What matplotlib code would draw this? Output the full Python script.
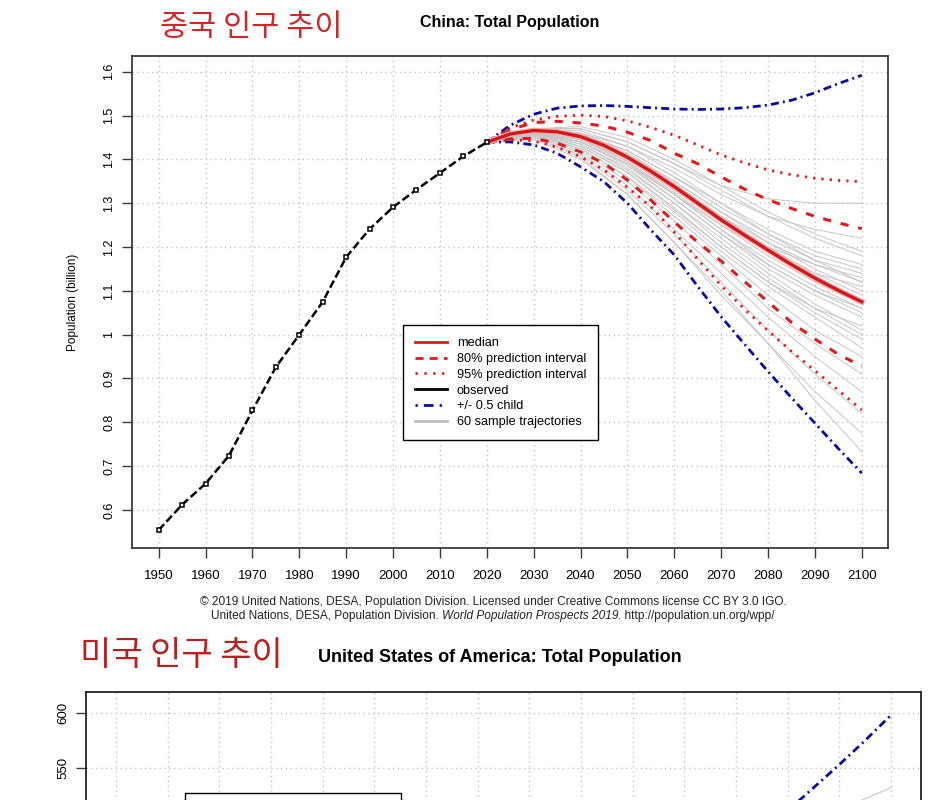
import matplotlib
matplotlib.use("Agg")
import matplotlib.pyplot as plt
from matplotlib.lines import Line2D
from matplotlib.patches import Rectangle
from matplotlib.offsetbox import TextArea, HPacker, AnnotationBbox

plt.rcParams['font.family'] = ['Liberation Sans', 'DejaVu Sans']

# ---- China data (billions) ----
obs_years = [1950, 1955, 1960, 1965, 1970, 1975, 1980, 1985, 1990, 1995,
             2000, 2005, 2010, 2015, 2020]
obs_pop = [0.554, 0.612, 0.660, 0.724, 0.827, 0.926, 1.000, 1.075, 1.177,
           1.241, 1.291, 1.331, 1.369, 1.407, 1.439]

proj_years = [2020, 2025, 2030, 2035, 2040, 2045, 2050, 2055, 2060, 2065,
              2070, 2075, 2080, 2085, 2090, 2095, 2100]
median = [1.439, 1.458, 1.466, 1.463, 1.452, 1.432, 1.405, 1.373, 1.338,
          1.300, 1.262, 1.227, 1.193, 1.160, 1.129, 1.101, 1.075]
pi80_up = [1.439, 1.468, 1.484, 1.487, 1.483, 1.476, 1.462, 1.443, 1.414,
           1.390, 1.360, 1.332, 1.308, 1.288, 1.270, 1.255, 1.242]
pi80_lo = [1.439, 1.447, 1.448, 1.437, 1.417, 1.391, 1.353, 1.307, 1.257,
           1.211, 1.168, 1.121, 1.075, 1.028, 0.990, 0.955, 0.928]
pi95_up = [1.439, 1.472, 1.490, 1.498, 1.501, 1.498, 1.488, 1.473, 1.455,
           1.433, 1.410, 1.392, 1.376, 1.365, 1.357, 1.352, 1.349]
pi95_lo = [1.439, 1.445, 1.442, 1.428, 1.406, 1.376, 1.336, 1.292, 1.234,
           1.172, 1.112, 1.058, 1.009, 0.962, 0.918, 0.873, 0.828]
child_up = [1.439, 1.478, 1.503, 1.517, 1.522, 1.523, 1.521, 1.518, 1.515,
            1.514, 1.515, 1.518, 1.524, 1.535, 1.552, 1.573, 1.592]
child_lo = [1.439, 1.440, 1.433, 1.414, 1.383, 1.349, 1.300, 1.239, 1.182,
            1.110, 1.041, 0.978, 0.916, 0.856, 0.798, 0.740, 0.684]

# sample trajectories, every 10 years 2020-2100
traj_years = [2020, 2030, 2040, 2050, 2060, 2070, 2080, 2090, 2100]
trajectories = [
    [1.439, 1.470, 1.470, 1.440, 1.390, 1.340, 1.310, 1.300, 1.300],
    [1.439, 1.470, 1.460, 1.430, 1.380, 1.320, 1.270, 1.240, 1.220],
    [1.439, 1.470, 1.470, 1.440, 1.390, 1.330, 1.270, 1.220, 1.180],
    [1.439, 1.470, 1.460, 1.420, 1.360, 1.300, 1.240, 1.190, 1.160],
    [1.439, 1.465, 1.455, 1.410, 1.350, 1.280, 1.220, 1.170, 1.140],
    [1.439, 1.466, 1.450, 1.400, 1.330, 1.260, 1.200, 1.160, 1.130],
    [1.439, 1.464, 1.445, 1.395, 1.325, 1.250, 1.180, 1.120, 1.070],
    [1.439, 1.467, 1.455, 1.410, 1.345, 1.270, 1.200, 1.140, 1.090],
    [1.439, 1.463, 1.440, 1.385, 1.310, 1.230, 1.160, 1.100, 1.050],
    [1.439, 1.462, 1.440, 1.390, 1.320, 1.250, 1.190, 1.140, 1.110],
    [1.439, 1.460, 1.435, 1.380, 1.300, 1.220, 1.140, 1.070, 1.010],
    [1.439, 1.458, 1.430, 1.370, 1.290, 1.200, 1.120, 1.050, 0.990],
    [1.439, 1.457, 1.425, 1.360, 1.270, 1.180, 1.090, 1.010, 0.950],
    [1.439, 1.455, 1.420, 1.350, 1.260, 1.160, 1.060, 0.980, 0.910],
    [1.439, 1.455, 1.425, 1.360, 1.280, 1.190, 1.110, 1.040, 0.970],
    [1.439, 1.453, 1.415, 1.340, 1.240, 1.140, 1.040, 0.950, 0.870],
    [1.439, 1.450, 1.410, 1.330, 1.230, 1.120, 1.010, 0.910, 0.820],
    [1.439, 1.450, 1.405, 1.320, 1.210, 1.090, 0.980, 0.870, 0.775],
    [1.439, 1.446, 1.400, 1.320, 1.210, 1.100, 0.980, 0.850, 0.733],
    [1.439, 1.468, 1.465, 1.430, 1.370, 1.300, 1.230, 1.170, 1.120],
    [1.439, 1.470, 1.475, 1.450, 1.400, 1.340, 1.280, 1.230, 1.190],
    [1.439, 1.466, 1.455, 1.415, 1.350, 1.280, 1.210, 1.150, 1.100],
    [1.439, 1.462, 1.445, 1.400, 1.330, 1.260, 1.190, 1.130, 1.080],
    [1.439, 1.460, 1.440, 1.390, 1.310, 1.230, 1.150, 1.090, 1.040],
    [1.439, 1.464, 1.450, 1.405, 1.340, 1.270, 1.210, 1.160, 1.120],
    [1.439, 1.461, 1.440, 1.390, 1.320, 1.240, 1.170, 1.110, 1.060],
    [1.439, 1.465, 1.455, 1.420, 1.360, 1.290, 1.230, 1.180, 1.150],
    [1.439, 1.459, 1.435, 1.375, 1.300, 1.210, 1.130, 1.060, 1.000],
    [1.439, 1.458, 1.430, 1.370, 1.285, 1.200, 1.120, 1.060, 1.020],
    [1.439, 1.463, 1.445, 1.395, 1.320, 1.240, 1.160, 1.100, 1.060],
]

china_yticks = [0.6, 0.7, 0.8, 0.9, 1.0, 1.1, 1.2, 1.3, 1.4, 1.5, 1.6]
china_yticklabels = ['0.6', '0.7', '0.8', '0.9', '1', '1.1', '1.2', '1.3',
                     '1.4', '1.5', '1.6']
xticks = list(range(1950, 2101, 10))

# ---- USA data (millions), only the top of the panel is visible ----
usa_obs_years = [1950, 1970, 1990, 2010, 2020]
usa_obs_pop = [158.8, 209.5, 252.1, 309.0, 331.0]
usa_median = [331, 349, 366, 379, 390, 399, 408, 416, 424, 429, 434, 434,
              434, 434, 434, 434, 434]
usa_child_up = [331, 345, 361, 377, 393, 408, 423, 437, 451, 465, 479, 494,
                511, 532, 553, 575, 598]
usa_traj = [331, 358, 385, 410, 435, 460, 485, 512, 532]
usa_yticks = [550, 600]

red = '#E01B1B'
blue = '#0A0AA0'
grid_col = '#C4C4C4'
spine_col = '#3A3A3A'
traj_col = '#C6C6C6'
dashdot = (0, (2.9, 1.5, 0.7, 1.5))

fig = plt.figure(figsize=(9.51, 8.0), dpi=100)
fig.patch.set_facecolor('white')

# ================= China panel =================
ax = fig.add_axes([132/951, 1-548/800, 756/951, 492/800])
ax.set_xlim(1944.3, 2105.6)
ax.set_ylim(0.513, 1.636)

for t in trajectories:
    ax.plot(traj_years, t, color=traj_col, lw=0.7, zorder=2)

ax.plot(proj_years, child_up, color=blue, lw=2, ls=dashdot, zorder=3)
ax.plot(proj_years, child_lo, color=blue, lw=2, ls=dashdot, zorder=3)
ax.plot(proj_years, pi95_up, color=red, lw=2, ls=(0, (0.8, 2.2)), zorder=4)
ax.plot(proj_years, pi95_lo, color=red, lw=2, ls=(0, (0.8, 2.2)), zorder=4)
ax.plot(proj_years, pi80_up, color=red, lw=2.2, ls=(0, (2.7, 3.2)), zorder=4)
ax.plot(proj_years, pi80_lo, color=red, lw=2.2, ls=(0, (2.7, 3.2)), zorder=4)
ax.plot(proj_years, median, color='#F6B0B0', lw=4.2, zorder=4)
ax.plot(proj_years, median, color='#D41818', lw=2.4, zorder=5)

ax.plot(obs_years, obs_pop, color='black', lw=1.8, ls=(0, (3.2, 1.4)),
        marker='s', ms=3.5, mfc='white', mec='black', mew=1.1, zorder=6)

ax.set_xticks(xticks)
ax.set_xticklabels([str(x) for x in xticks], fontsize=9.5)
ax.set_yticks(china_yticks)
ax.set_yticklabels(china_yticklabels, fontsize=9, rotation=90, va='center')
ax.tick_params(axis='x', length=7, width=1, color=spine_col, pad=9)
ax.tick_params(axis='y', length=7, width=1, color=spine_col, pad=5)
ax.grid(True, color=grid_col, ls=(0, (1, 2.5)), lw=1)
ax.set_axisbelow(True)
for s in ax.spines.values():
    s.set_color(spine_col)
    s.set_linewidth(1.3)

ax.set_ylabel('Population (billion)', fontsize=8.5)
ax.yaxis.set_label_coords(-(132-79)/756, 0.5)

handles = [
    Line2D([], [], color=red, lw=2),
    Line2D([], [], color=red, lw=2, ls=(0, (2.9, 2.2))),
    Line2D([], [], color=red, lw=2, ls=(0, (0.8, 2.4))),
    Line2D([], [], color='black', lw=2),
    Line2D([], [], color=blue, lw=2, ls=(0, (0.8, 2.2, 3.5, 2.2))),
    Line2D([], [], color='#BDBDBD', lw=2),
]
labels = ['median', '80% prediction interval', '95% prediction interval',
          'observed', '+/- 0.5 child', '60 sample trajectories']
leg = ax.legend(handles, labels, loc='upper left',
                bbox_to_anchor=((403-132)/756, (548-325)/492),
                fontsize=9.2, frameon=True, fancybox=False, framealpha=1,
                edgecolor='black', handlelength=2.5, handletextpad=0.75,
                labelspacing=0.3, borderpad=0.95, borderaxespad=0)
leg.get_frame().set_linewidth(1.0)
leg.set_zorder(10)

ax.set_title('China: Total Population', fontsize=11.5, fontweight='bold', pad=21)
fig.text(160/951, 1-28/800, '중국 인구 추이', fontsize=22, color='#CC2A2A',
         family=['Noto Sans CJK KR'], va='center', ha='left')

fig.text(493/951, 1-602/800,
         '© 2019 United Nations, DESA, Population Division. Licensed under '
         'Creative Commons license CC BY 3.0 IGO.',
         fontsize=8.6, ha='center', va='center', color='#222222')
parts = [
    TextArea('United Nations, DESA, Population Division. ',
             textprops=dict(fontsize=8.6, color='#222222')),
    TextArea('World Population Prospects 2019',
             textprops=dict(fontsize=8.6, style='italic', color='#222222')),
    TextArea('. http://population.un.org/wpp/',
             textprops=dict(fontsize=8.6, color='#222222')),
]
footer = HPacker(children=parts, pad=0, sep=0, align='baseline')
fig.add_artist(AnnotationBbox(footer, (493/951, 1-616/800),
                              xycoords='figure fraction', frameon=False,
                              box_alignment=(0.5, 0.5)))

# ================= USA panel (cut off at the bottom) =================
ax2 = fig.add_axes([86/951, -0.2, 835/951, 0.135 + 0.2])
ax2.set_xlim(1944.2, 2105.8)
ax2.set_ylim(375.4, 619)

ax2.plot(traj_years, usa_traj, color=traj_col, lw=0.8, zorder=2)
ax2.plot(proj_years, usa_child_up, color=blue, lw=2, ls=dashdot, zorder=3)
ax2.plot(proj_years, usa_median, color='#D41818', lw=2.4, zorder=5)
ax2.plot(usa_obs_years, usa_obs_pop, color='black', lw=1.8,
         ls=(0, (3.2, 1.4)), zorder=6)

ax2.set_xticks(xticks)
ax2.set_xticklabels([])
ax2.set_yticks(usa_yticks)
ax2.set_yticklabels([str(v) for v in usa_yticks], fontsize=9.5,
                    rotation=90, va='center')
ax2.tick_params(axis='y', length=7, width=1, color=spine_col, pad=5)
ax2.grid(True, color=grid_col, ls=(0, (1, 2.5)), lw=1)
ax2.set_axisbelow(True)
for s in ax2.spines.values():
    s.set_color('#222222')
    s.set_linewidth(1.3)

# legend frame of the lower panel, only its top edge is in view
ax2.add_patch(Rectangle(((185-86)/835, (960-793-120)/268), 216/835, 120/268,
                        transform=ax2.transAxes, facecolor='white',
                        edgecolor='black', lw=1.0, zorder=10))

fig.text(500/951, 1-657/800, 'United States of America: Total Population',
         fontsize=13, fontweight='bold', ha='center', va='center')
fig.text(80/951, 1-656/800, '미국 인구 추이', fontsize=24.5, color='#B52222',
         family=['Noto Sans CJK KR'], va='center', ha='left')

fig.savefig('out.png', dpi=100, facecolor='white')
